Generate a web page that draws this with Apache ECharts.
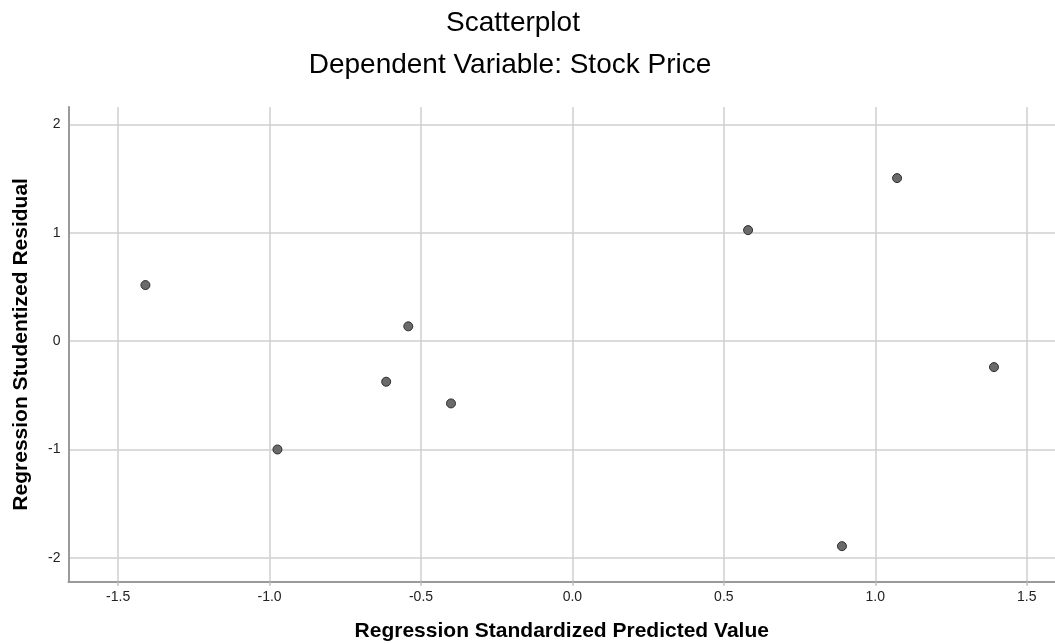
<!DOCTYPE html>
<html>
<head>
<meta charset="utf-8">
<script src="https://cdn.jsdelivr.net/npm/echarts@6/dist/echarts.min.js"></script>
<style>
html,body{margin:0;padding:0;background:#fff;}
#chart{width:1055px;height:644px;}
</style>
</head>
<body>
<div id="chart"></div>
<script>
const titleText = 'Scatterplot';
const subtitleText = 'Dependent Variable: Stock Price';
const xAxisTitle = 'Regression Standardized Predicted Value';
const yAxisTitle = 'Regression Studentized Residual';
const xTicks = [-1.5, -1.0, -0.5, 0.0, 0.5, 1.0, 1.5];
const yTicks = [-2, -1, 0, 1, 2];
const predictedValues = [-1.410, -0.974, -0.615, -0.542, -0.401, 0.580, 0.890, 1.072, 1.392];
const studentizedResiduals = [0.517, -1.000, -0.375, 0.136, -0.575, 1.024, -1.892, 1.504, -0.240];

const points = predictedValues.map((x, i) => [x, studentizedResiduals[i]]);
const font = 'Liberation Sans, Arial, sans-serif';

const chart = echarts.init(document.getElementById('chart'), null, {renderer: 'canvas'});
chart.setOption({
  animation: false,
  backgroundColor: '#ffffff',
  title: [
    {text: titleText, left: 513, top: 9, textAlign: 'center', padding: 0,
     textStyle: {fontFamily: font, fontSize: 28, fontWeight: 'normal', color: '#000'}},
    {text: subtitleText, left: 510, top: 51, textAlign: 'center', padding: 0,
     textStyle: {fontFamily: font, fontSize: 28, fontWeight: 'normal', color: '#000'}}
  ],
  grid: {left: 68.5, right: 0, top: 107, bottom: 62.3, containLabel: false, outerBoundsMode: 'none'},
  xAxis: {
    type: 'value',
    min: -1.664, max: 1.5935,
    name: xAxisTitle, nameLocation: 'middle', nameGap: 39,
    nameTextStyle: {fontFamily: font, fontSize: 21, fontWeight: 'bold', color: '#000'},
    axisLine: {show: true, onZero: false, lineStyle: {color: '#9a9a9a', width: 2}},
    axisTick: {show: true, length: 4, customValues: xTicks, lineStyle: {color: '#bdbdbd', width: 1.5}},
    axisLabel: {customValues: xTicks, margin: 8, fontFamily: font, fontSize: 14, color: '#222',
      formatter: v => v.toFixed(1)},
    splitLine: {show: true, lineStyle: {color: '#cfcfcf', width: 1.5}}
  },
  yAxis: {
    type: 'value',
    min: -2.22, max: 2.16,
    name: yAxisTitle, nameLocation: 'middle', nameGap: 37,
    nameTextStyle: {fontFamily: font, fontSize: 21, fontWeight: 'bold', color: '#000'},
    axisLine: {show: true, onZero: false, lineStyle: {color: '#9a9a9a', width: 2}},
    axisTick: {show: false, customValues: yTicks},
    axisLabel: {customValues: yTicks, margin: 8, fontFamily: font, fontSize: 14, color: '#222',
      formatter: v => String(v)},
    splitLine: {show: true, lineStyle: {color: '#cfcfcf', width: 1.5}}
  },
  series: [{
    type: 'scatter',
    data: points,
    symbol: 'circle',
    symbolSize: 9,
    itemStyle: {color: '#6a6a6a', borderColor: '#2e2e2e', borderWidth: 1, opacity: 1}
  }]
});
</script>
</body>
</html>
